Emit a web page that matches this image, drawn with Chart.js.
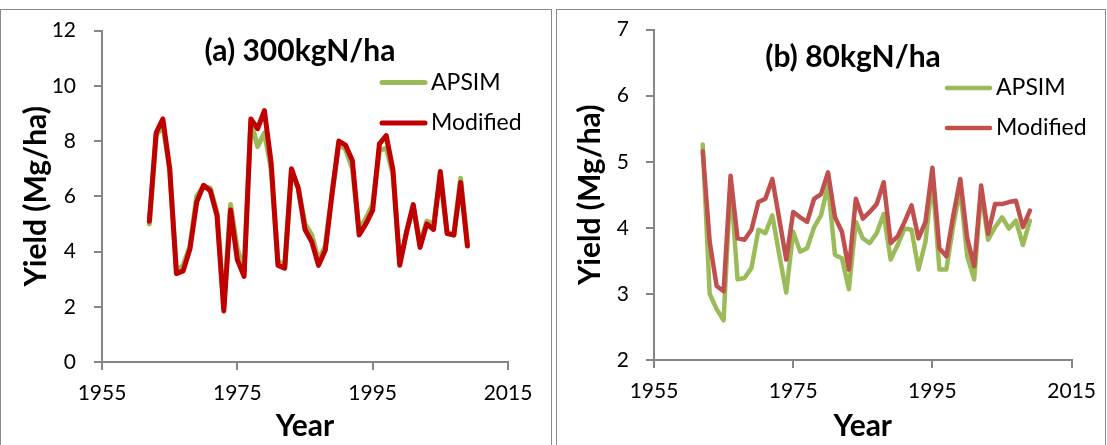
<!DOCTYPE html>
<html>
<head>
<meta charset="utf-8">
<script src="https://cdn.jsdelivr.net/npm/chart.js@4.4.0/dist/chart.umd.min.js"></script>
<style>
  body { margin: 0; background: #fff; width: 1107px; height: 445px; overflow: hidden; position: relative; }
  .frame { position: absolute; top: 9px; height: 460px; border: 1px solid #8a8a8a; box-sizing: border-box; }
  .panel { position: absolute; top: 0; width: 551px; height: 445px; }
</style>
</head>
<body>
<div class="frame" style="left:0;width:552px"></div>
<div class="frame" style="left:556px;width:550px"></div>
<div class="panel" style="left:0"><canvas id="chartA"></canvas></div>
<div class="panel" style="left:556px"><canvas id="chartB"></canvas></div>
<script>
// 데이터
const years = [
  1962, 1963, 1964, 1965, 1966, 1967, 1968, 1969, 1970, 1971, 1972, 1973,
  1974, 1975, 1976, 1977, 1978, 1979, 1980, 1981, 1982, 1983, 1984, 1985,
  1986, 1987, 1988, 1989, 1990, 1991, 1992, 1993, 1994, 1995, 1996, 1997,
  1998, 1999, 2000, 2001, 2002, 2003, 2004, 2005, 2006, 2007, 2008, 2009,
];
const seriesNames = ["APSIM", "Modified"];

// (a) 300kgN/ha
const apsim300 = [
  5.0, 8.2, 8.55, 7.0, 3.3, 3.5, 4.2, 6.0, 6.35, 6.3, 5.4, 2.0,
  5.7, 4.1, 3.3, 8.7, 7.8, 8.3, 7.0, 3.7, 3.4, 6.9, 6.3, 5.0,
  4.6, 3.7, 4.2, 6.1, 7.9, 7.7, 7.0, 4.8, 5.2, 5.7, 7.65, 7.75,
  6.8, 3.6, 4.7, 5.6, 4.3, 5.1, 5.0, 6.7, 4.7, 4.6, 6.65, 4.3,
];
const modified300 = [
  5.1, 8.3, 8.8, 7.0, 3.2, 3.3, 4.1, 5.8, 6.4, 6.2, 5.3, 1.85,
  5.5, 3.7, 3.1, 8.8, 8.45, 9.1, 7.2, 3.5, 3.4, 7.0, 6.3, 4.8,
  4.35, 3.5, 4.05, 6.1, 8.0, 7.85, 7.3, 4.6, 5.0, 5.5, 7.9, 8.2,
  6.95, 3.5, 4.7, 5.7, 4.15, 5.0, 4.8, 6.9, 4.65, 4.6, 6.5, 4.2,
];

// (b) 80kgN/ha
const apsim80 = [
  5.26, 3.0, 2.77, 2.6, 4.7, 3.22, 3.24, 3.39, 3.97, 3.92, 4.19, 3.59,
  3.02, 3.94, 3.64, 3.69, 4.01, 4.19, 4.65, 3.59, 3.54, 3.07, 4.09, 3.84,
  3.77, 3.92, 4.21, 3.52, 3.74, 3.99, 3.97, 3.37, 3.79, 4.75, 3.37, 3.37,
  4.04, 4.59, 3.57, 3.22, 4.55, 3.82, 4.01, 4.16, 3.99, 4.11, 3.74, 4.11,
];
const modified80 = [
  5.16, 3.79, 3.12, 3.04, 4.79, 3.84, 3.82, 3.97, 4.39, 4.44, 4.74, 4.13,
  3.52, 4.24, 4.16, 4.09, 4.44, 4.51, 4.84, 4.16, 3.94, 3.37, 4.44, 4.14,
  4.24, 4.36, 4.69, 3.77, 3.87, 4.09, 4.34, 3.84, 4.09, 4.91, 3.69, 3.57,
  4.19, 4.74, 3.84, 3.42, 4.64, 3.91, 4.36, 4.36, 4.39, 4.41, 4.01, 4.26,
];

// 축 범위
const xRange = { min: 1955, max: 2015, step: 20 };
const yRangeA = { min: 0, max: 12, step: 2 };
const yRangeB = { min: 2, max: 7, step: 1 };

Chart.defaults.font.family = "Lato, 'Open Sans', sans-serif";
Chart.defaults.color = "#000";

const AXIS_GRAY = "#868686";

// 제목과 범례를 플롯 안에 그리는 플러그인
const overlay = {
  id: "overlay",
  afterDatasetsDraw(chart, args, opts) {
    const ctx = chart.ctx;
    ctx.save();
    ctx.fillStyle = "#000";
    ctx.textBaseline = "middle";
    ctx.font = "bold 30px Lato";
    ctx.textAlign = "center";
    ctx.fillText(opts.title, opts.titleX, opts.titleY);
    ctx.font = "23px Lato";
    ctx.textAlign = "left";
    chart.data.datasets.forEach((ds, i) => {
      const y = opts.legendY[i];
      ctx.strokeStyle = ds.borderColor;
      ctx.lineWidth = ds.borderWidth;
      ctx.lineCap = "round";
      ctx.beginPath();
      ctx.moveTo(opts.legendX, y);
      ctx.lineTo(opts.legendX + 43, y);
      ctx.stroke();
      ctx.fillText(ds.label, opts.legendX + 49, y);
    });
    ctx.restore();
  },
};

function toPoints(values) {
  return years.map((yr, i) => ({ x: yr, y: values[i] }));
}

function makeChart(id, cfg) {
  return new Chart(document.getElementById(id), {
    type: "line",
    data: {
      datasets: [
        {
          label: seriesNames[0],
          data: toPoints(cfg.apsim),
          borderColor: "#9BBB59",
          borderWidth: cfg.lineWidth,
          order: 1,
        },
        {
          label: seriesNames[1],
          data: toPoints(cfg.modified),
          borderColor: cfg.red,
          borderWidth: cfg.lineWidth,
          order: 0,
        },
      ],
    },
    options: {
      responsive: true,
      maintainAspectRatio: false,
      animation: false,
      events: [],
      elements: {
        point: { radius: 0 },
        line: { tension: 0, borderJoinStyle: "round", borderCapStyle: "round" },
      },
      layout: { padding: { top: 25, right: cfg.padRight, left: 0, bottom: 0 } },
      plugins: {
        legend: { display: false },
        tooltip: { enabled: false },
        overlay: cfg.overlay,
      },
      scales: {
        x: {
          type: "linear",
          min: xRange.min,
          max: xRange.max,
          afterFit: (s) => { s.height = cfg.xHeight; },
          ticks: {
            stepSize: xRange.step,
            font: { size: 21 },
            padding: 11,
            maxRotation: 0,
            callback: (v) => String(v),
          },
          grid: { drawOnChartArea: false, tickLength: 8, color: AXIS_GRAY, lineWidth: 2 },
          border: { color: AXIS_GRAY, width: 2 },
          title: {
            display: true,
            text: "Year",
            font: { size: 30, weight: "bold" },
            padding: { top: 0, bottom: 1 },
          },
        },
        y: {
          min: cfg.yRange.min,
          max: cfg.yRange.max,
          afterFit: (s) => { s.width = cfg.yWidth; },
          ticks: { stepSize: cfg.yRange.step, font: { size: 21 }, padding: cfg.yTickPad },
          grid: { drawOnChartArea: false, tickLength: 8, color: AXIS_GRAY, lineWidth: 2 },
          border: { color: AXIS_GRAY, width: 2 },
          title: {
            display: true,
            text: "Yield (Mg/ha)",
            font: { size: 30, weight: "bold" },
            padding: { top: cfg.yTitlePad, bottom: 0 },
          },
        },
      },
    },
    plugins: [overlay],
  });
}

makeChart("chartA", {
  apsim: apsim300,
  modified: modified300,
  red: "#C00000",
  lineWidth: 5,
  yRange: yRangeA,
  yWidth: 102,
  xHeight: 83,
  padRight: 43,
  yTickPad: 18,
  yTitlePad: 18,
  overlay: { title: "(a) 300kgN/ha", titleX: 300, titleY: 51, legendX: 382, legendY: [82.5, 123] },
});

makeChart("chartB", {
  apsim: apsim80,
  modified: modified80,
  red: "#C0504D",
  lineWidth: 4.5,
  yRange: yRangeB,
  yWidth: 98,
  xHeight: 85,
  padRight: 34,
  yTickPad: 17,
  yTitlePad: 16,
  overlay: { title: "(b) 80kgN/ha", titleX: 297, titleY: 57, legendX: 391, legendY: [88, 128] },
});
</script>
</body>
</html>
